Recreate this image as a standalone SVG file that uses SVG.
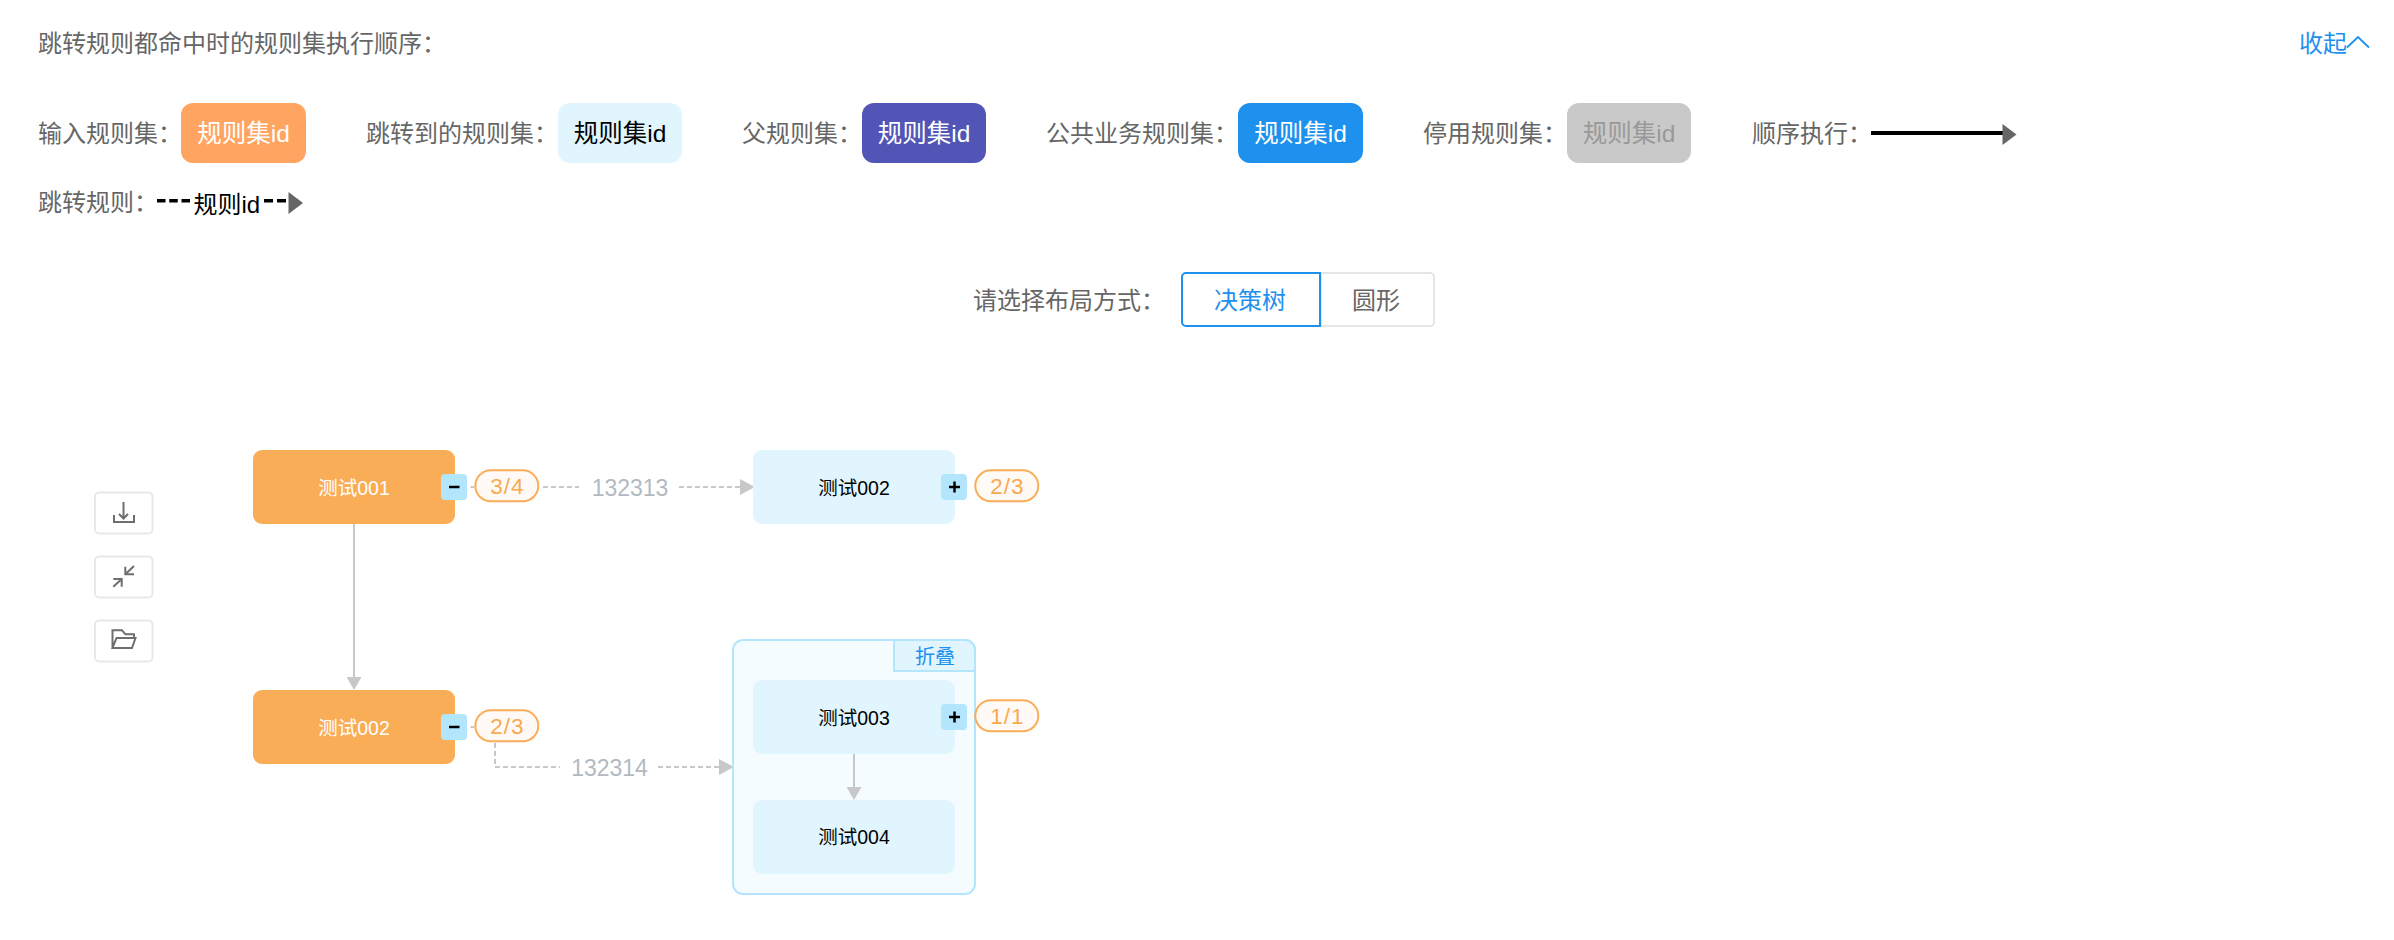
<svg xmlns="http://www.w3.org/2000/svg" width="2394" height="940" viewBox="0 0 2394 940">
<style>
text{font-family:"Liberation Sans","Noto Sans CJK SC",sans-serif}
.lbl{font-size:24px;fill:#666}
.chip{font-size:24.500px;text-anchor:middle}
.node{font-size:19.500px;text-anchor:middle}
.bd{font-size:22.500px;letter-spacing:1px;text-anchor:middle;fill:#f9a94f}
.edge{font-size:23px;text-anchor:middle;fill:#b2bac1}
.badge{fill:#fffaf5;stroke:#f9ad56;stroke-width:2}
.tgl{fill:#b3e6fd}
.sign{stroke:#000;stroke-width:2.500;fill:none}
.tool{fill:#fff;stroke:#e8e8e8;stroke-width:2}
.ico{fill:none;stroke:#6e6e6e;stroke-width:2}
.solid{fill:none;stroke:#c8c8c8;stroke-width:2}
.dash{fill:none;stroke:#c8c8c8;stroke-width:2;stroke-dasharray:5 3}
.lh{fill:#666}
</style>
<defs>
<marker id="ah" markerUnits="userSpaceOnUse" markerWidth="15" markerHeight="16" refX="0" refY="8" orient="auto" viewBox="0 0 15 16"><path d="M0 0L15 8L0 16Z" fill="#c8c8c8"/></marker>
<marker id="av" markerUnits="userSpaceOnUse" markerWidth="13" markerHeight="15" refX="0" refY="7.500" orient="auto" viewBox="0 0 13 15"><path d="M0 0L13 7.500L0 15Z" fill="#c8c8c8"/></marker>
</defs>
<rect width="2394" height="940" fill="#fff"/>

<g id="header">
<text class="lbl" x="38" y="51.500">跳转规则都命中时的规则集执行顺序：</text>
<text x="2299" y="51.500" font-size="24" fill="#1e90ee">收起</text>
<path d="M2347 47.500L2358 37L2369 47.500" fill="none" stroke="#1e90ee" stroke-width="1.800"/>
</g>

<g id="legend-input">
<text class="lbl" x="38" y="141.500">输入规则集：</text>
<rect x="181" y="103" width="125" height="60" rx="12" fill="#ffa561"/>
<text class="chip" x="243.500" y="142" fill="#fff">规则集id</text>
</g>
<g id="legend-jump">
<text class="lbl" x="366" y="141.500">跳转到的规则集：</text>
<rect x="558" y="103" width="124" height="60" rx="12" fill="#e0f5fe"/>
<text class="chip" x="620" y="142" fill="#000">规则集id</text>
</g>
<g id="legend-parent">
<text class="lbl" x="742" y="141.500">父规则集：</text>
<rect x="862" y="103" width="124" height="60" rx="12" fill="#5255b5"/>
<text class="chip" x="924" y="142" fill="#fff">规则集id</text>
</g>
<g id="legend-public">
<text class="lbl" x="1046" y="141.500">公共业务规则集：</text>
<rect x="1238" y="103" width="125" height="60" rx="12" fill="#1e90ee"/>
<text class="chip" x="1300.500" y="142" fill="#fff">规则集id</text>
</g>
<g id="legend-disabled">
<text class="lbl" x="1423" y="141.500">停用规则集：</text>
<rect x="1567" y="103" width="124" height="60" rx="12" fill="#c9c9c9"/>
<text class="chip" x="1629" y="142" fill="#999">规则集id</text>
</g>
<g id="legend-order">
<text class="lbl" x="1752" y="141.500">顺序执行：</text>
<path d="M1871 133H2003" stroke="#000" stroke-width="4" fill="none"/>
<path class="lh" d="M2002.500 124L2016.500 134.500L2002.500 145Z"/>
</g>
<g id="legend-jumprule">
<text class="lbl" x="38" y="210.500">跳转规则：</text>
<path d="M157 200.700H190" stroke="#000" stroke-width="3.500" stroke-dasharray="8.500 3.750" fill="none"/>
<text x="193.500" y="212.500" font-size="24" fill="#000">规则id</text>
<path d="M264 200.700H286" stroke="#000" stroke-width="3.500" stroke-dasharray="9 4" fill="none"/>
<path class="lh" d="M288.500 192L303 203L288.500 214Z"/>
</g>

<g id="layout-switch">
<text class="lbl" x="973" y="308.500">请选择布局方式：</text>
<path d="M1321 273H1430a4 4 0 0 1 4 4V322a4 4 0 0 1-4 4H1321Z" fill="#fff" stroke="#e5e5e5" stroke-width="2"/>
<text x="1376" y="308.500" font-size="24" fill="#666" text-anchor="middle">圆形</text>
<path d="M1186 273H1320V326H1186a4 4 0 0 1-4-4V277a4 4 0 0 1 4-4Z" fill="#fff" stroke="#1e90ee" stroke-width="2"/>
<text x="1250" y="308.500" font-size="24" fill="#1e90ee" text-anchor="middle">决策树</text>
</g>

<g id="tool-download">
<rect class="tool" x="95" y="492.500" width="57.500" height="41" rx="4"/>
<path class="ico" d="M123.500 502V518M119 514L123.500 518.500L128 514M114 515V522H134V515"/>
</g>
<g id="tool-compress">
<rect class="tool" x="95" y="556.500" width="57.500" height="41" rx="4"/>
<path class="ico" d="M134 566L125.300 574.300M125.300 566.700V574.300H134M113.300 586.700L121.700 579M113.300 579H121.700V586.700"/>
</g>
<g id="tool-folder">
<rect class="tool" x="95" y="620.500" width="57.500" height="41" rx="4"/>
<path class="ico" d="M112.500 648V630.300H122L125.500 634.300H134V638M112.500 648H132L135.500 638H116.500L112.500 648Z"/>
</g>

<g id="connectors">
<path class="solid" d="M354 524V677" marker-end="url(#av)"/>
<path class="solid" d="M470.500 487H474"/>
<path class="dash" d="M543 487H579"/>
<path class="dash" d="M679 487H740" marker-end="url(#ah)"/>
<path class="solid" d="M470.500 727H474"/>
<path class="dash" d="M495 743V767H560"/>
<path class="dash" d="M658 767H719" marker-end="url(#ah)"/>
<text class="edge" x="630" y="496">132313</text>
<text class="edge" x="609.500" y="776">132314</text>
</g>

<g id="group-fold">
<rect x="733" y="640" width="242" height="254" rx="10" fill="#f5fcff" stroke="#b3e6fd" stroke-width="2"/>
<path d="M894 640H965a10 10 0 0 1 10 10V671H894Z" fill="#e1f5fe" stroke="#b3e6fd" stroke-width="2"/>
<text x="935" y="664" font-size="20" fill="#1e90ee" text-anchor="middle">折叠</text>
</g>
<path class="solid" d="M854 754V787" marker-end="url(#av)"/>

<g id="node-001">
<rect x="253" y="450" width="202" height="74" rx="9" fill="#f9ad56"/>
<text class="node" x="354" y="495" fill="#fff">测试001</text>
<rect class="tgl" x="441" y="474" width="26" height="26" rx="4"/>
<path class="sign" d="M449 487H459.500"/>
<rect class="badge" x="475.300" y="470.300" width="63" height="31" rx="15.500"/>
<text class="bd" x="507.300" y="494">3/4</text>
</g>
<g id="node-002-right">
<rect x="753" y="450" width="202" height="74" rx="9" fill="#e0f5fe"/>
<text class="node" x="854" y="495" fill="#000">测试002</text>
<rect class="tgl" x="941" y="474" width="26" height="26" rx="4"/>
<path class="sign" d="M949 487H960M954.500 481.500V492.500"/>
<rect class="badge" x="975.300" y="470.300" width="63" height="31" rx="15.500"/>
<text class="bd" x="1007.300" y="494">2/3</text>
</g>
<g id="node-002-left">
<rect x="253" y="690" width="202" height="74" rx="9" fill="#f9ad56"/>
<text class="node" x="354" y="735" fill="#fff">测试002</text>
<rect class="tgl" x="441" y="714" width="26" height="26" rx="4"/>
<path class="sign" d="M449 727H459.500"/>
<rect class="badge" x="475.300" y="710.300" width="63" height="31" rx="15.500"/>
<text class="bd" x="507.300" y="734">2/3</text>
</g>
<g id="node-003">
<rect x="753" y="680" width="202" height="74" rx="9" fill="#e0f5fe"/>
<text class="node" x="854" y="725" fill="#000">测试003</text>
<rect class="tgl" x="941" y="704" width="26" height="26" rx="4"/>
<path class="sign" d="M949 717H960M954.500 711.500V722.500"/>
<rect class="badge" x="975.300" y="700.300" width="63" height="31" rx="15.500"/>
<text class="bd" x="1007.300" y="724">1/1</text>
</g>
<g id="node-004">
<rect x="753" y="800" width="202" height="74" rx="9" fill="#e0f5fe"/>
<text class="node" x="854" y="844" fill="#000">测试004</text>
</g>
</svg>
